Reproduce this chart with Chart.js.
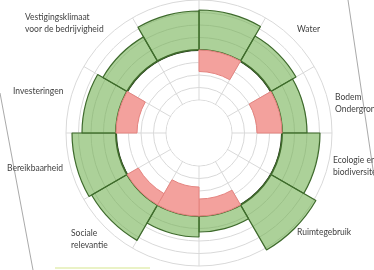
<!DOCTYPE html>
<html>
<head>
<meta charset="utf-8">
<script src="https://cdn.jsdelivr.net/npm/chart.js@4.4.0/dist/chart.umd.min.js"></script>
<style>
  html, body { margin: 0; padding: 0; background: #fff; }
  #wrap { width: 374px; height: 270px; position: relative; }
</style>
</head>
<body>
<div id="wrap"><canvas id="ringChart"></canvas></div>
<script>
// 12 segments of 30 degrees, clockwise from the top
const categories = [
  "", "Water", ["Bodem", "Ondergrond"], ["Ecologie en", "biodiversiteit"],
  "Ruimtegebruik", "", "", ["Sociale", "relevantie"],
  "Bereikbaarheid", "Investeringen", ["Vestigingsklimaat", "voor de bedrijvigheid"], "",
];
// scores: 0 = the black ring, positive outward (green), negative inward (red)
const positiveScores = [3.2, 2.32, 2.0, 3.04, 4.16, 1.28, 1.68, 3.28, 3.52, 2.72, 2.24, 3.12];
const negativeScores = [-1.72, 0, -2.0, 0, 0, -1.36, -2.32, -1.04, 0, -1.68, 0, 0];
// grid rings drawn by the radial scale
const ringTicks = [-4, -3, -2, -1, 0, 1, 2, 3, 4];

// offsets of the text boxes from the centre of the chart
const labelOffsets = [
  null, [98, -104], [136, -36], [134, 27], [98, 99], null, null,
  [-128, 100], [-136, 35], [-186, -42], [-174, -116], null,
];

// polar area where each wedge is a ring piece between 0 and its value
class RingAreaController extends Chart.PolarAreaController {
  updateElement(element, index, properties, mode) {
    if (properties && properties.outerRadius !== undefined) {
      const scale = this._cachedMeta.rScale || this.chart.scales.r;
      const r0 = scale.getDistanceFromCenterForValue(0);
      const r1 = properties.outerRadius;
      properties.innerRadius = Math.min(r0, r1);
      properties.outerRadius = Math.max(r0, r1);
    }
    super.updateElement(element, index, properties, mode);
  }
}
RingAreaController.id = "ringArea";
RingAreaController.defaults = Chart.PolarAreaController.defaults;
RingAreaController.overrides = Chart.PolarAreaController.overrides;
Chart.register(RingAreaController);

const holePlugin = {
  id: "hole",
  beforeDatasetsDraw(chart) {
    const s = chart.scales.r;
    const ctx = chart.ctx;
    ctx.save();
    ctx.fillStyle = "#fff";
    ctx.beginPath();
    ctx.arc(s.xCenter, s.yCenter, s.getDistanceFromCenterForValue(ringTicks[0]) - 0.6, 0, Math.PI * 2);
    ctx.fill();
    ctx.restore();
  },
};

const textPlugin = {
  id: "boxLabels",
  afterDatasetsDraw(chart) {
    const s = chart.scales.r;
    const ctx = chart.ctx;
    ctx.save();
    ctx.font = "8.5px Lato";
    ctx.fillStyle = "#3f3f3f";
    ctx.textBaseline = "middle";
    categories.forEach((label, i) => {
      const off = labelOffsets[i];
      if (!label || !off) return;
      const lines = Array.isArray(label) ? label : [label];
      ctx.textAlign = i === 8 ? "right" : "left";
      lines.forEach((line, k) => {
        ctx.fillText(line, s.xCenter + off[0], s.yCenter + off[1] + k * 12.6);
      });
    });
    ctx.restore();
  },
};

// edges of the photographed page
const pagePlugin = {
  id: "page",
  afterDraw(chart) {
    const ctx = chart.ctx;
    ctx.save();
    ctx.strokeStyle = "rgba(120,120,120,0.8)";
    ctx.lineWidth = 0.8;
    ctx.beginPath();
    ctx.moveTo(0, 93); ctx.lineTo(33, 270);
    ctx.moveTo(348, 0); ctx.lineTo(374, 176);
    ctx.stroke();
    ctx.strokeStyle = "#eaf2c6";
    ctx.lineWidth = 2;
    ctx.beginPath();
    ctx.moveTo(55, 268); ctx.lineTo(150, 268);
    ctx.stroke();
    ctx.restore();
  },
};

new Chart(document.getElementById("ringChart"), {
  type: "ringArea",
  data: {
    labels: categories,
    datasets: [
      {
        data: negativeScores,
        backgroundColor: "#f3a19d",
        borderColor: "#e4837f",
        borderWidth: (c) => (c.raw === 0 ? 0 : 1),
      },
      {
        data: positiveScores,
        backgroundColor: "rgba(112,176,80,0.58)",
        borderColor: "#3e6a2c",
        borderWidth: 1.2,
      },
    ],
  },
  options: {
    responsive: true,
    maintainAspectRatio: false,
    animation: false,
    layout: { padding: { left: 24, right: 0, top: 0, bottom: 4 } },
    plugins: { legend: { display: false }, tooltip: { enabled: false } },
    scales: {
      r: {
        min: -6.64,
        max: 4,
        startAngle: 0,
        afterBuildTicks: (scale) => {
          scale.ticks = ringTicks.map((v) => ({ value: v }));
        },
        ticks: { display: false },
        pointLabels: { display: false },
        angleLines: { display: true, color: "#d9d9d9", lineWidth: 1 },
        grid: {
          circular: true,
          color: (c) => (c.tick && c.tick.value === 0 ? "#1f2a14" : "#d9d9d9"),
          lineWidth: (c) => (c.tick && c.tick.value === 0 ? 2 : 1),
        },
      },
    },
  },
  plugins: [holePlugin, textPlugin, pagePlugin],
});
</script>
</body>
</html>
